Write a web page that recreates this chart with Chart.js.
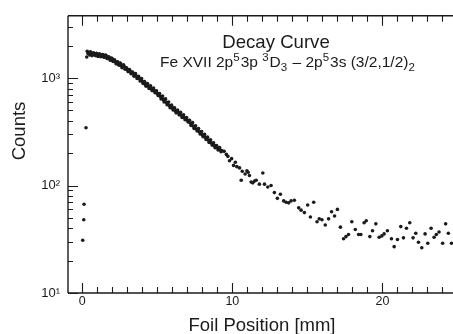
<!DOCTYPE html>
<html>
<head>
<meta charset="utf-8">
<script src="https://cdn.jsdelivr.net/npm/chart.js@4.4.1/dist/chart.umd.min.js"></script>
<style>
  html, body { margin: 0; padding: 0; background: #fff; overflow: hidden; }
  #decay { display: block; }
</style>
</head>
<body>
<canvas id="decay" width="460" height="334"></canvas>
<script>
// foil position (mm) and counts for each scan point
const foilPos = [
  0.03, 0.10, 0.12, 0.25,
  0.30, 0.33, 0.38, 0.45, 0.50, 0.55, 0.60, 0.65, 0.70, 0.75, 0.80, 0.85, 0.90, 0.95,
  1.00, 1.05, 1.10, 1.15, 1.20, 1.25, 1.30, 1.35, 1.40, 1.45, 1.50, 1.55, 1.60, 1.65, 1.70, 1.75, 1.80, 1.85, 1.90, 1.95,
  2.00, 2.05, 2.10, 2.15, 2.20, 2.25, 2.30, 2.35, 2.40, 2.45, 2.50, 2.55, 2.60, 2.65, 2.70, 2.75, 2.80, 2.85, 2.90, 2.95,
  3.00, 3.05, 3.10, 3.15, 3.20, 3.25, 3.30, 3.35, 3.40, 3.45, 3.50, 3.55, 3.60, 3.65, 3.70, 3.75, 3.80, 3.85, 3.90, 3.95,
  4.00, 4.05, 4.10, 4.15, 4.20, 4.25, 4.30, 4.35, 4.40, 4.45, 4.50, 4.55, 4.60, 4.65, 4.70, 4.75, 4.80, 4.85, 4.90, 4.95,
  5.00, 5.05, 5.10, 5.15, 5.20, 5.25, 5.30, 5.35, 5.40, 5.45, 5.50, 5.55, 5.60, 5.65, 5.70, 5.75, 5.80, 5.85, 5.90, 5.95,
  6.00, 6.05, 6.10, 6.15, 6.20, 6.25, 6.30, 6.35, 6.40, 6.45, 6.50, 6.55, 6.60, 6.65, 6.70, 6.75, 6.80, 6.85, 6.90, 6.95,
  7.00, 7.05, 7.10, 7.15, 7.20, 7.25, 7.30, 7.35, 7.40, 7.45, 7.50, 7.55, 7.60, 7.65, 7.70, 7.75, 7.80, 7.85, 7.90, 7.95,
  8.00, 8.05, 8.10, 8.15, 8.20, 8.25, 8.30, 8.35, 8.40, 8.45, 8.50, 8.55, 8.60, 8.65, 8.70, 8.75, 8.80, 8.85, 8.90, 8.95,
  9.00, 9.05, 9.10, 9.15, 9.20, 9.25, 9.30,
  9.45, 9.60, 9.70, 9.81, 9.95, 10.08, 10.20,
  10.30, 10.48, 10.59, 10.66, 10.85, 10.97, 11.05, 11.14, 11.25, 11.36,
  11.48, 11.59, 11.80, 12.03, 12.14, 12.36, 12.58, 12.80, 13.00, 13.20,
  13.42, 13.58, 13.75, 13.91, 14.13, 14.42, 14.58, 14.80, 15.02, 15.20,
  15.42, 15.64, 15.79, 15.97, 16.19, 16.41, 16.61, 16.81, 17.00, 17.20,
  17.41, 17.57, 17.74, 17.96, 18.19, 18.41, 18.56, 18.78, 18.92, 19.16,
  19.34, 19.56, 19.78, 19.96, 20.11, 20.33, 20.60, 20.78, 21.00, 21.22,
  21.40, 21.60, 21.82, 22.04, 22.22, 22.40, 22.62, 22.84, 23.02, 23.24,
  23.44, 23.59, 23.77, 24.01, 24.21, 24.39, 24.60
];
const counts = [
  31, 48, 67, 345,
  1570, 1780, 1690, 1730, 1640, 1760, 1710, 1620, 1650, 1720, 1680, 1630, 1620, 1700,
  1670, 1590, 1600, 1680, 1650, 1580, 1610, 1660, 1640, 1560, 1570, 1640, 1610, 1520, 1520, 1580, 1560, 1470, 1470, 1540,
  1510, 1430, 1460, 1480, 1420, 1360, 1410, 1420, 1340, 1320, 1380, 1370, 1300, 1250, 1300, 1330, 1280, 1210, 1240, 1250,
  1200, 1150, 1190, 1200, 1150, 1100, 1130, 1140, 1090, 1040, 1090, 1100, 1040, 990, 1020, 1040, 990, 940, 970, 990,
  930, 890, 930, 930, 870, 840, 885, 890, 840, 800, 835, 850, 800, 765, 795, 810, 760, 730, 755, 760,
  720, 690, 710, 720, 675, 640, 665, 680, 630, 600, 630, 640, 595, 565, 590, 600, 555, 530, 550, 560,
  525, 505, 525, 530, 495, 475, 495, 505, 478, 455, 474, 480, 450, 430, 445, 455, 428, 410, 425, 430,
  405, 390, 402, 405, 380, 362, 376, 385, 356, 340, 355, 360, 336, 322, 333, 340, 316, 302, 315, 318,
  296, 285, 294, 300, 281, 268, 278, 282, 264, 252, 262, 266, 249, 238, 247, 250, 235, 225, 234, 236,
  224, 214, 222, 226, 214, 206, 212,
  208, 195, 187, 170, 178, 154, 165,
  150, 146, 112, 136, 128, 137, 133, 124, 108, 106,
  110, 112, 103, 131, 103, 97, 100, 86, 76, 83,
  72, 70, 69, 72, 73, 62, 59, 56, 66, 51,
  70, 46, 49, 48, 43, 49, 57, 52, 60, 41,
  32, 33.5, 35, 46, 39, 35, 35, 45, 47, 33.5,
  38, 44, 33, 34, 35.5, 38, 32, 27, 31.5, 41.5,
  32.6, 40, 45, 32.6, 36, 29.7, 26.4, 35.5, 29, 40,
  33, 35, 37, 29, 44, 36, 29
];

// axis ticks
const xTicks = [0, 1, 2, 3, 4, 5, 6, 7, 8, 9, 10, 11, 12, 13, 14, 15, 16, 17, 18, 19, 20, 21, 22, 23, 24];
const xLabelled = [0, 10, 20];
const yDecades = [10, 100, 1000];
const yDecadeLabels = ['10\u00B9', '10\u00B2', '10\u00B3'];
const yMinor = [20, 30, 40, 50, 60, 70, 80, 90, 200, 300, 400, 500, 600, 700, 800, 900, 2000, 3000];

const ink = '#1b1b1b';
const face = '"Liberation Sans", Arial, Helvetica, sans-serif';

// subtitle pieces: text, 0 = normal, 1 = superscript, -1 = subscript
const subtitle = [
  ['Fe XVII 2p', 0], ['5', 1], ['3p ', 0], ['3', 1], ['D', 0], ['3', -1],
  [' \u2013 2p', 0], ['5', 1], ['3s (3/2,1/2)', 0], ['2', -1]
];

// frame, inward ticks and the free text
const frame = {
  id: 'frame',
  beforeDatasetsDraw(chart) {
    const { ctx, chartArea: a, scales: { x, y } } = chart;
    ctx.save();
    ctx.strokeStyle = ink;
    ctx.lineWidth = 1.4;
    ctx.beginPath();
    ctx.moveTo(a.left, a.top);
    ctx.lineTo(a.left, a.bottom);
    ctx.moveTo(a.left, a.bottom);
    ctx.lineTo(chart.width, a.bottom);
    ctx.moveTo(a.left, a.top);
    ctx.lineTo(chart.width, a.top);
    ctx.stroke();

    ctx.lineWidth = 1.1;
    ctx.beginPath();
    xTicks.forEach(v => {
      const px = Math.round(x.getPixelForValue(v)) + 0.5;
      const len = xLabelled.includes(v) ? 10 : 6;
      ctx.moveTo(px, a.bottom);
      ctx.lineTo(px, a.bottom - len);
      ctx.moveTo(px, a.top);
      ctx.lineTo(px, a.top + len);
    });
    yDecades.forEach(v => {
      const py = Math.round(y.getPixelForValue(v)) + 0.5;
      ctx.moveTo(a.left, py);
      ctx.lineTo(a.left + 10, py);
    });
    yMinor.forEach(v => {
      const py = Math.round(y.getPixelForValue(v)) + 0.5;
      ctx.moveTo(a.left, py);
      ctx.lineTo(a.left + 5, py);
    });
    ctx.stroke();
    ctx.restore();
  },
  afterDraw(chart) {
    const { ctx } = chart;
    ctx.save();
    ctx.fillStyle = ink;

    ctx.font = '18.6px ' + face;
    ctx.textAlign = 'center';
    ctx.textBaseline = 'alphabetic';
    ctx.fillText('Decay Curve', 276, 48);

    // subtitle with raised / lowered indices
    ctx.textAlign = 'left';
    let cx = 160;
    subtitle.forEach(([t, k]) => {
      ctx.font = (k === 0 ? '15.5px ' : '11.5px ') + face;
      const dy = k === 1 ? -6.5 : (k === -1 ? 4 : 0);
      ctx.fillText(t, cx, 67 + dy);
      cx += ctx.measureText(t).width + (k !== 0 ? 1 : 0);
    });

    ctx.font = '18.5px ' + face;
    ctx.textAlign = 'center';
    ctx.fillText('Foil Position [mm]', 262, 331);

    ctx.translate(20, 131);
    ctx.rotate(-Math.PI / 2);
    ctx.textBaseline = 'middle';
    ctx.fillText('Counts', 0, 0);
    ctx.restore();
  }
};

const decayChart = new Chart(document.getElementById('decay'), {
  type: 'scatter',
  data: {
    datasets: [{
      data: foilPos.map((p, i) => ({ x: p, y: counts[i] })),
      pointRadius: 1.8,
      pointBackgroundColor: ink,
      pointBorderWidth: 0
    }]
  },
  options: {
    responsive: false,
    animation: false,
    layout: { padding: { top: 13, right: 3, left: 0, bottom: 0 } },
    plugins: { legend: { display: false }, tooltip: { enabled: false } },
    scales: {
      x: {
        type: 'linear',
        min: -0.95,
        max: 24.9,
        grid: { display: false, drawTicks: false },
        border: { display: false },
        afterBuildTicks: s => { s.ticks = xLabelled.map(v => ({ value: v })); },
        afterFit: s => { s.height = 41; },
        ticks: {
          autoSkip: false,
          maxRotation: 0,
          padding: 1,
          color: ink,
          font: { family: face, size: 12.5 },
          callback: v => String(v)
        }
      },
      y: {
        type: 'logarithmic',
        min: 10,
        max: 3800,
        grid: { display: false, drawTicks: false },
        border: { display: false },
        afterBuildTicks: s => { s.ticks = yDecades.map(v => ({ value: v })); },
        afterFit: s => { s.width = 68; },
        ticks: {
          autoSkip: false,
          padding: 8,
          color: ink,
          font: { family: face, size: 13 },
          callback: (v, i) => yDecadeLabels[i]
        }
      }
    }
  },
  plugins: [frame]
});
</script>
</body>
</html>
